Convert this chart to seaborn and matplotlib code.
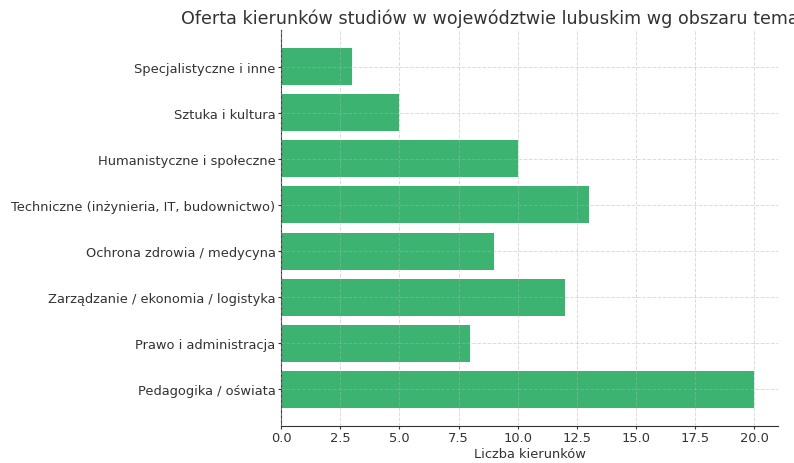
import numpy as np
import pandas as pd
import matplotlib
matplotlib.use("Agg")
import matplotlib.pyplot as plt
import seaborn as sns

# Data
kategorie = [
    "Pedagogika / oświata",
    "Prawo i administracja",
    "Zarządzanie / ekonomia / logistyka",
    "Ochrona zdrowia / medycyna",
    "Techniczne (inżynieria, IT, budownictwo)",
    "Humanistyczne i społeczne",
    "Sztuka i kultura",
    "Specjalistyczne i inne",
]
liczba_kierunkow = [20, 8, 12, 9, 13, 10, 5, 3]

df = pd.DataFrame({"obszar": kategorie, "liczba": liczba_kierunkow})

plt.rcParams["font.family"] = ["DejaVu Sans"]
plt.rcParams["text.color"] = "#333333"
plt.rcParams["axes.labelcolor"] = "#333333"
plt.rcParams["xtick.color"] = "#333333"
plt.rcParams["ytick.color"] = "#333333"

fig = plt.figure(figsize=(7.94, 4.64), dpi=100)
ax = fig.add_axes([0.354, 0.080, 0.626, 0.853])

sns.barplot(
    data=df,
    x="liczba",
    y="obszar",
    order=kategorie[::-1],
    color="#3cb371",
    saturation=1,
    width=0.8,
    ax=ax,
)

n = len(kategorie)
ax.set_ylim(n - 1 + 0.4 + 0.39, -0.4 - 0.39)
ax.set_xlim(0, 21)
ax.set_xticks(np.arange(0, 20.1, 2.5))

# grid on both axes, drawn over the bars like in the reference
ax.grid(True, linestyle="--", color="#b0b0b0", alpha=0.45, linewidth=0.7)
ax.set_axisbelow(False)

ax.spines["top"].set_visible(False)
ax.spines["right"].set_visible(False)
for s in ["left", "bottom"]:
    ax.spines[s].set_color("#333333")

ax.set_title("Oferta kierunków studiów w województwie lubuskim wg obszaru tematycznego",
             fontsize=12.6, pad=5)
ax.set_xlabel("Liczba kierunków", fontsize=9.4, labelpad=2)
ax.set_ylabel("")
ax.tick_params(axis="both", labelsize=9.35, length=2.5, pad=1.5)

fig.savefig("out.png", dpi=100)
